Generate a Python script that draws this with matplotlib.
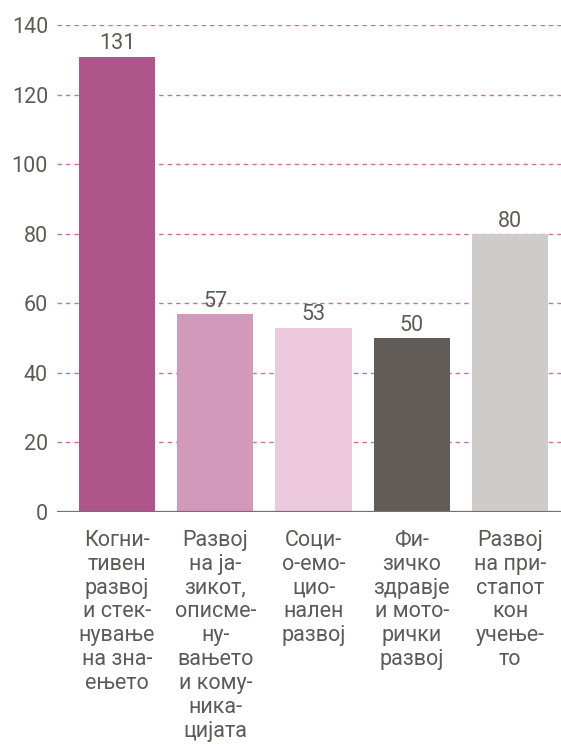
import numpy as np
import matplotlib.pyplot as plt

plt.rcParams['font.family'] = ['Roboto', 'DejaVu Sans']

# data
categories = [
    "Когни-\nтивен\nразвој\nи стек-\nнување\nна зна-\nењето",
    "Развој\nна ја-\nзикот,\nописме-\nну-\nвањето\nи кому-\nника-\nцијата",
    "Соци-\nо-емо-\nцио-\nнален\nразвој",
    "Фи-\nзичко\nздравје\nи мото-\nрички\nразвој",
    "Развој\nна при-\nстапот\nкон\nучење-\nто",
]
values = [131, 57, 53, 50, 80]
colors = ['#ae558c', '#d399ba', '#ecc9dc', '#625c58', '#cfcbca']
yticks = [0, 20, 40, 60, 80, 100, 120, 140]

txt_color = '#5e5a57'
fs = 15.5

fig = plt.figure(figsize=(5.61, 7.44), dpi=100)
ax = fig.add_axes([0.1016, 0.3122, 0.8984, 0.6538])

x = np.arange(len(values))
ax.bar(x, values, width=0.774, color=colors, zorder=2)

# dashed grid lines
for t in yticks[1:]:
    ax.axhline(t, color='#c86fa6', lw=1.0, ls=(0, (3.2, 2.9)), zorder=1)
ax.axhline(0, color='#77706c', lw=1.6, zorder=3)

for xi, v in zip(x, values):
    ax.annotate(str(v), (xi, v), xytext=(0, 1.5), textcoords='offset points',
                ha='center', va='bottom', fontsize=fs, color=txt_color)

for xi, lab in zip(x, categories):
    ax.annotate(lab, (xi, 0), xytext=(0, -13), textcoords='offset points',
                ha='center', va='top', fontsize=fs, color=txt_color,
                linespacing=1.18, multialignment='center')

ax.set_xlim(-0.611, 4.519)
ax.set_ylim(0, 140)
ax.set_yticks(yticks)
ax.set_xticks([])
ax.tick_params(axis='y', length=0, pad=6.5, labelsize=fs, labelcolor=txt_color)
for s in ax.spines.values():
    s.set_visible(False)

fig.savefig("out.png", dpi=100)
